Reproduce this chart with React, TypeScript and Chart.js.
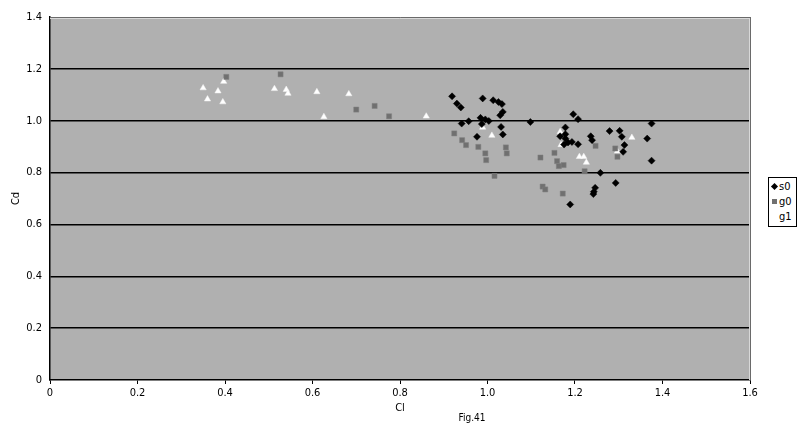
import React, { useEffect, useRef } from "react";
import { Chart, registerables } from "chart.js";

Chart.register(...registerables);

const seriesNames = ["s0", "g0", "g1"];
const xTitle = "Cl";
const yTitle = "Cd";
const caption = "Fig.41";
const xTicks = [0, 0.2, 0.4, 0.6, 0.8, 1, 1.2, 1.4, 1.6];
const yTicks = [0, 0.2, 0.4, 0.6, 0.8, 1, 1.2, 1.4];

const s0Cl = [0.919, 0.93, 0.939, 0.989, 1.013, 1.025, 1.033, 1.035, 1.029, 0.941, 0.957, 0.984, 0.995, 1.003, 0.987, 1.098, 1.031, 1.035, 0.976, 1.196, 1.207, 1.178, 1.166, 1.178, 1.178, 1.175, 1.184, 1.193, 1.207, 1.236, 1.239, 1.279, 1.302, 1.307, 1.313, 1.31, 1.365, 1.375, 1.375, 1.258, 1.293, 1.246, 1.243, 1.242, 1.189];
const s0Cd = [1.094, 1.066, 1.051, 1.086, 1.079, 1.072, 1.064, 1.034, 1.021, 0.989, 0.998, 1.011, 1.005, 0.999, 0.987, 0.995, 0.976, 0.947, 0.938, 1.025, 1.006, 0.974, 0.94, 0.948, 0.931, 0.908, 0.916, 0.918, 0.909, 0.94, 0.925, 0.96, 0.961, 0.938, 0.906, 0.88, 0.931, 0.989, 0.846, 0.799, 0.76, 0.741, 0.726, 0.717, 0.677];

const g0Cl = [0.403, 0.527, 0.7, 0.742, 0.775, 0.924, 0.942, 0.951, 0.979, 0.995, 0.997, 1.042, 1.044, 1.121, 1.153, 1.159, 1.163, 1.174, 1.016, 1.126, 1.132, 1.172, 1.247, 1.292, 1.297, 1.222];
const g0Cd = [1.169, 1.179, 1.043, 1.057, 1.017, 0.951, 0.925, 0.906, 0.899, 0.874, 0.848, 0.897, 0.874, 0.858, 0.876, 0.844, 0.825, 0.829, 0.787, 0.746, 0.735, 0.719, 0.903, 0.893, 0.861, 0.805];

const g1Cl = [0.35, 0.36, 0.384, 0.395, 0.397, 0.513, 0.54, 0.544, 0.61, 0.626, 0.683, 0.86, 0.989, 1.01, 1.166, 1.168, 1.21, 1.22, 1.226, 1.297, 1.33];
const g1Cd = [1.126, 1.083, 1.114, 1.072, 1.151, 1.123, 1.12, 1.105, 1.111, 1.015, 1.103, 1.017, 0.974, 0.943, 0.957, 0.907, 0.861, 0.861, 0.839, 0.882, 0.935];

const FONT = '"Liberation Sans Narrow", "DejaVu Sans Condensed", sans-serif';

const toPoints = (xs: number[], ys: number[]) => xs.map((x, i) => ({ x, y: ys[i] }));

const plotDecor = {
  id: "plotDecor",
  beforeDraw(chart: any) {
    const { ctx, chartArea } = chart;
    const { left, top, right, bottom } = chartArea;
    ctx.save();
    ctx.fillStyle = "#b0b0b0";
    ctx.fillRect(left, top, right - left, bottom - top);
    ctx.restore();
  },
  beforeDatasetsDraw(chart: any) {
    const { ctx, chartArea } = chart;
    const { left, top, right, bottom } = chartArea;
    ctx.save();
    ctx.lineWidth = 1;
    ctx.strokeStyle = "#6a6a6a";
    ctx.beginPath();
    ctx.moveTo(left, top + 0.5);
    ctx.lineTo(right + 1, top + 0.5);
    ctx.moveTo(right + 0.5, top);
    ctx.lineTo(right + 0.5, bottom);
    ctx.stroke();
    ctx.strokeStyle = "#d8d8d8";
    ctx.beginPath();
    ctx.moveTo(left, top + 1.5);
    ctx.lineTo(right - 1, top + 1.5);
    ctx.moveTo(right - 0.5, top + 1);
    ctx.lineTo(right - 0.5, bottom);
    ctx.stroke();
    ctx.restore();
  },
  afterDraw(chart: any) {
    const { ctx } = chart;
    ctx.save();
    ctx.fillStyle = "#000";
    ctx.font = `10px ${FONT}`;
    ctx.textAlign = "center";
    ctx.textBaseline = "middle";
    ctx.fillText(caption, 472, 418);
    ctx.restore();
  },
};

export default function App() {
  const canvasRef = useRef<HTMLCanvasElement | null>(null);

  useEffect(() => {
    if (!canvasRef.current) return;
    const chart = new Chart(canvasRef.current, {
      type: "scatter",
      data: {
        datasets: [
          {
            label: seriesNames[0],
            data: toPoints(s0Cl, s0Cd),
            pointStyle: "rectRot",
            pointRadius: 3.5,
            backgroundColor: "#000",
            borderColor: "#000",
            borderWidth: 0.5,
          },
          {
            label: seriesNames[1],
            data: toPoints(g0Cl, g0Cd),
            pointStyle: "rect",
            pointRadius: 3.6,
            backgroundColor: "#707070",
            borderColor: "#808080",
            borderWidth: 0.5,
          },
          {
            label: seriesNames[2],
            data: toPoints(g1Cl, g1Cd),
            pointStyle: "triangle",
            pointRadius: 3.6,
            backgroundColor: "#ffffff",
            borderColor: "#f4f4f4",
            borderWidth: 0.5,
          },
        ],
      },
      options: {
        animation: false,
        responsive: false,
        maintainAspectRatio: false,
        layout: { padding: { left: 0, right: 50, top: 17, bottom: 0 } },
        plugins: {
          legend: { display: false },
          tooltip: { enabled: false },
        },
        scales: {
          x: {
            type: "linear",
            min: 0,
            max: 1.6,
            afterBuildTicks: (scale: any) => {
              scale.ticks = xTicks.map((v) => ({ value: v }));
            },
            afterFit: (scale: any) => {
              scale.height = 49;
            },
            ticks: {
              color: "#000",
              font: { family: FONT, size: 11 },
              padding: 3,
              maxRotation: 0,
              autoSkip: false,
            },
            grid: {
              drawOnChartArea: false,
              drawTicks: true,
              tickLength: 4,
              color: "#000",
            },
            border: { display: true, color: "#000", width: 1.5 },
            title: {
              display: true,
              text: xTitle,
              color: "#000",
              font: { family: FONT, size: 11 },
              padding: { top: 0, bottom: 14 },
            },
          },
          y: {
            type: "linear",
            min: 0,
            max: 1.4,
            afterBuildTicks: (scale: any) => {
              scale.ticks = yTicks.map((v) => ({ value: v }));
            },
            afterFit: (scale: any) => {
              scale.width = 50;
            },
            ticks: {
              color: "#000",
              font: { family: FONT, size: 11 },
              padding: 8,
              autoSkip: false,
            },
            grid: {
              drawTicks: false,
              lineWidth: 1.5,
              color: (ctx: any) =>
                ctx.tick && (ctx.tick.value === 0 || ctx.tick.value === 1.4)
                  ? "rgba(0,0,0,0)"
                  : "#000",
            },
            border: { display: true, color: "#000", width: 1.5 },
            title: {
              display: true,
              text: yTitle,
              color: "#000",
              font: { family: FONT, size: 11 },
              padding: { top: 10, bottom: 0 },
            },
          },
        },
      },
      plugins: [plotDecor],
    });
    return () => chart.destroy();
  }, []);

  const legendItem = (marker: React.ReactNode, text: string) => (
    <div style={{ display: "flex", alignItems: "center", height: 15 }}>
      <div style={{ width: 10, display: "flex", justifyContent: "center", alignItems: "center" }}>{marker}</div>
      <span>{text}</span>
    </div>
  );

  return (
    <div style={{ position: "absolute", left: 0, top: 0, width: 800, height: 429, background: "#fff" }}>
      <canvas ref={canvasRef} width={800} height={429} style={{ width: 800, height: 429, display: "block" }} />
      <div
        style={{
          position: "absolute",
          left: 768,
          top: 177,
          width: 27,
          height: 47,
          border: "1px solid #000",
          background: "#fff",
          fontFamily: FONT,
          fontSize: 11,
          lineHeight: "15px",
          paddingTop: 1,
          boxSizing: "content-box",
        }}
      >
        {legendItem(<div style={{ width: 5, height: 5, background: "#000", transform: "rotate(45deg)" }} />, seriesNames[0])}
        {legendItem(<div style={{ width: 5, height: 5, background: "#707070" }} />, seriesNames[1])}
        {legendItem(
          <div style={{ width: 0, height: 0, borderLeft: "3px solid transparent", borderRight: "3px solid transparent", borderBottom: "6px solid #fff" }} />,
          seriesNames[2]
        )}
      </div>
    </div>
  );
}
